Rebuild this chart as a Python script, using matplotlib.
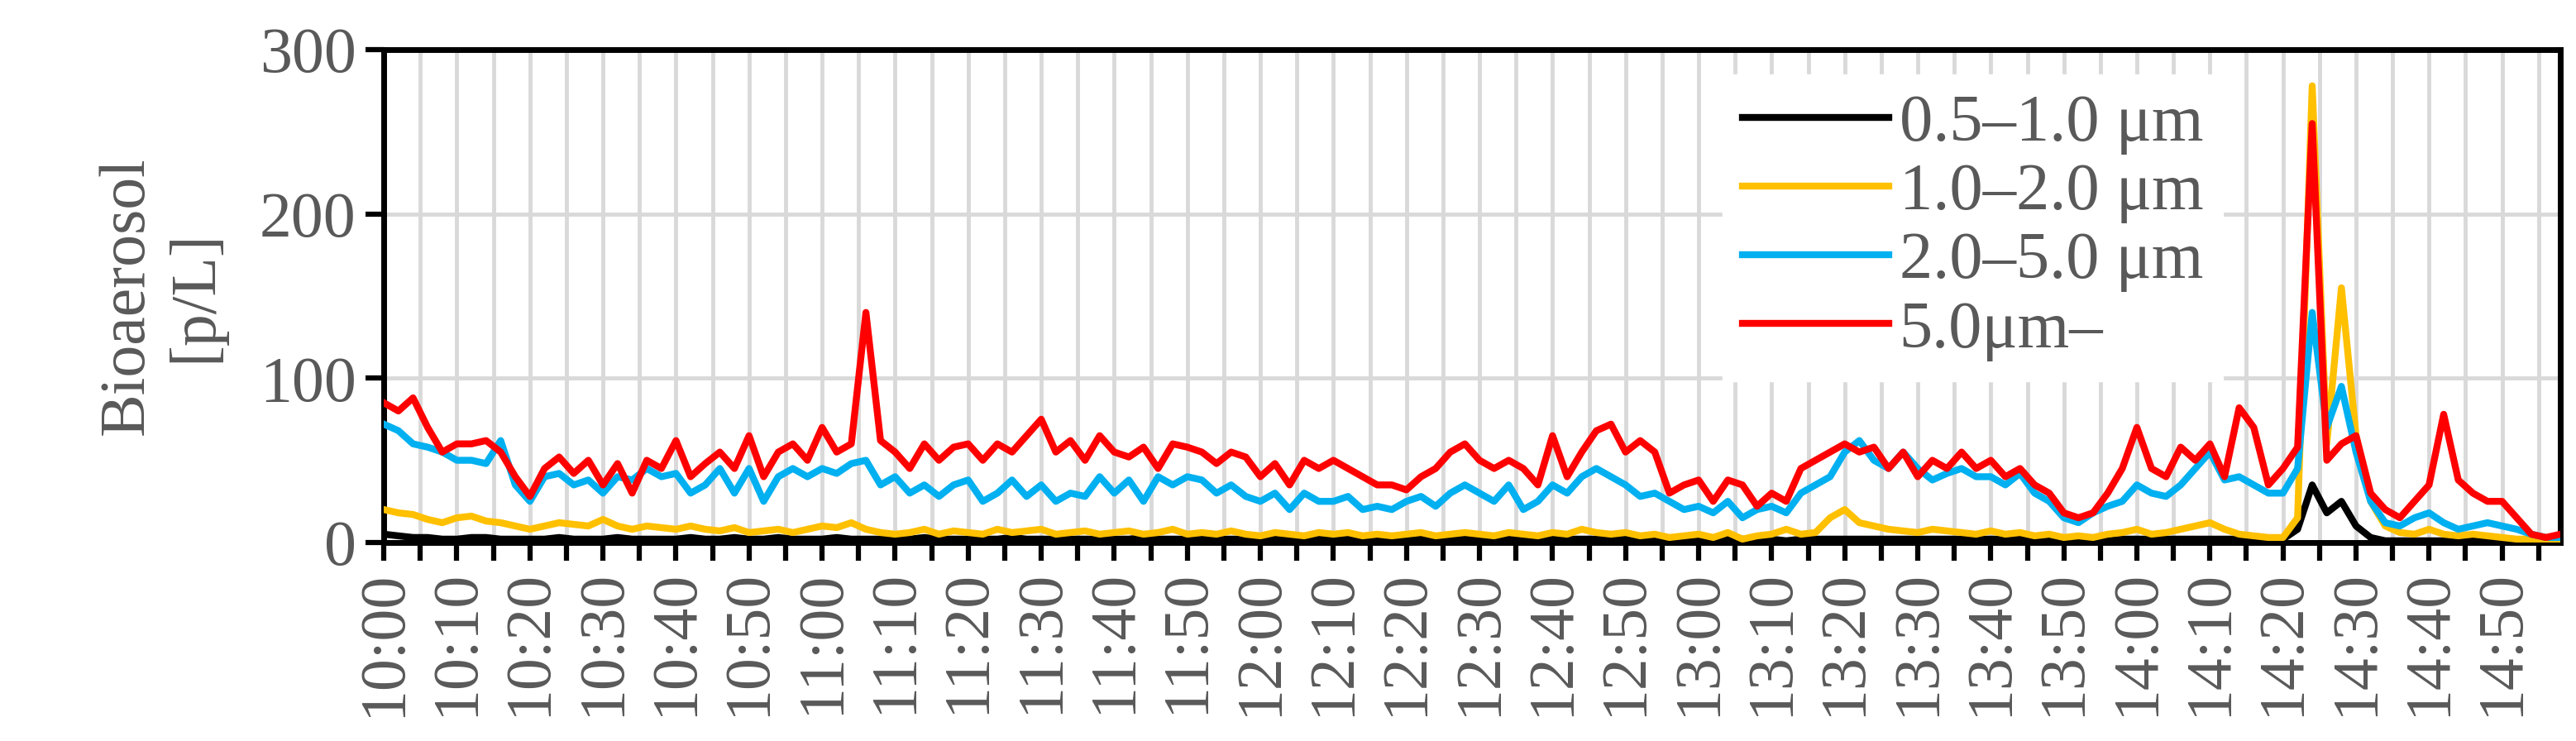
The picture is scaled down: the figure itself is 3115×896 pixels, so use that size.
import matplotlib
matplotlib.use("Agg")
import matplotlib.pyplot as plt
import numpy as np

minutes = list(range(0, 300, 2))
tick_labels = ["10:00","10:10","10:20","10:30","10:40","10:50","11:00","11:10","11:20","11:30","11:40","11:50",
               "12:00","12:10","12:20","12:30","12:40","12:50","13:00","13:10","13:20","13:30","13:40","13:50",
               "14:00","14:10","14:20","14:30","14:40","14:50"]

red = [85,80,88,70,55, 60,60,62,55,40, 28,45,52,42,50, 35,48,30,50,45, 62,40,48,55,45, 65,40,55,60,50,
       70,55,60,140,62, 55,45,60,50,58, 60,50,60,55,65, 75,55,62,50,65, 55,52,58,45,60, 58,55,48,55,52,
       40,48,35,50,45, 50,45,40,35,35, 32,40,45,55,60, 50,45,50,45,35, 65,40,55,68,72, 55,62,55,30,35,
       38,25,38,35,22, 30,25,45,50,55, 60,55,58,45,55, 40,50,45,55,45, 50,40,45,35,30, 18,15,18,30,45,
       70,45,40,58,50, 60,40,82,70,35, 45,58,255,50,60, 65,30,20,15,25, 35,78,38,30,25, 25,15,5,3,5]
blue = [72,68,60,58,55, 50,50,48,62,35, 25,40,42,35,38, 30,40,38,45,40, 42,30,35,45,30, 45,25,40,45,40,
        45,42,48,50,35, 40,30,35,28,35, 38,25,30,38,28, 35,25,30,28,40, 30,38,25,40,35, 40,38,30,35,28,
        25,30,20,30,25, 25,28,20,22,20, 25,28,22,30,35, 30,25,35,20,25, 35,30,40,45,40, 35,28,30,25,20,
        22,18,25,15,20, 22,18,30,35,40, 55,62,50,45,55, 45,38,42,45,40, 40,35,42,30,25, 15,12,18,22,25,
        35,30,28,35,45, 55,38,40,35,30, 30,45,140,70,95, 55,25,12,10,15, 18,12,8,10,12, 10,8,5,3,3]
yellow = [20,18,17,14,12, 15,16,13,12,10, 8,10,12,11,10, 14,10,8,10,9, 8,10,8,7,9, 6,7,8,6,8,
          10,9,12,8,6, 5,6,8,5,7, 6,5,8,6,7, 8,5,6,7,5, 6,7,5,6,8, 5,6,5,7,5,
          4,6,5,4,6, 5,6,4,5,4, 5,6,4,5,6, 5,4,6,5,4, 6,5,8,6,5, 6,4,5,3,4,
          5,3,6,2,4, 5,8,5,6,15, 20,12,10,8,7, 6,8,7,6,5, 7,5,6,4,5, 3,4,3,5,6,
          8,5,6,8,10, 12,8,5,4,3, 3,15,278,60,155, 65,25,10,6,5, 8,5,4,5,4, 3,2,2,1,2]
black = [5,4,3,3,2, 2,3,3,2,2, 2,2,3,2,2, 2,3,2,2,2, 2,3,2,2,3, 2,2,3,2,2,
         2,3,2,2,2, 2,2,3,2,2, 2,2,2,3,2, 2,2,2,2,2, 2,2,3,2,2, 2,2,2,2,2,
         2,2,2,2,2, 2,2,2,2,2, 2,2,2,2,2, 2,2,2,2,2, 2,2,2,2,2, 2,2,2,1,2,
         2,1,3,2,1, 2,1,2,2,2, 2,2,2,2,2, 2,2,2,2,2, 2,2,2,1,1, 1,1,1,1,2,
         2,2,2,2,2, 2,2,2,2,1, 2,8,35,18,25, 10,3,1,1,1, 1,1,1,1,1, 1,1,1,1,1]

series = [("0.5–1.0 μm", black, "#000000"), ("1.0–2.0 μm", yellow, "#FFC000"),
          ("2.0–5.0 μm", blue, "#00B0F0"), ("5.0μm–", red, "#FF0000")]

plt.rcParams['font.family'] = ['Liberation Serif', 'DejaVu Serif']
fig = plt.figure(figsize=(31.15, 8.96), dpi=100)
ax = fig.add_axes([0.149, 0.268, 0.845, 0.665])
grey = "#595959"
for name, vals, col in series:
    ax.plot(minutes, vals, color=col, lw=6, label=name, zorder=3)

ax.set_xlim(0, 298)
ax.set_ylim(0, 300)
ax.set_yticks([0, 100, 200, 300])
ax.set_xticks(np.arange(0, 300, 5))
ax.set_xticklabels([tick_labels[i // 2] if i % 2 == 0 else "" for i in range(60)], rotation=90)
ax.grid(True, color='#D9D9D9', lw=3.5, zorder=0)
ax.tick_params(axis='both', labelsize=56, labelcolor=grey, length=16, width=4.5, color='black', pad=8)
for s in ax.spines.values():
    s.set_color('black'); s.set_linewidth(5)
ax.set_ylabel("Bioaerosol\n[p/L]", fontsize=56, color=grey, labelpad=30)
leg = ax.legend(loc='upper right', bbox_to_anchor=(0.845, 0.95), fontsize=58, frameon=True,
                framealpha=1, edgecolor='white', fancybox=False, handlelength=2.2, handletextpad=0.15,
                labelspacing=0.12, borderaxespad=0, borderpad=0.3)
for t in leg.get_texts():
    t.set_color(grey)
for l in leg.get_lines():
    l.set_linewidth(6)
fig.savefig("out.png", dpi=100)
